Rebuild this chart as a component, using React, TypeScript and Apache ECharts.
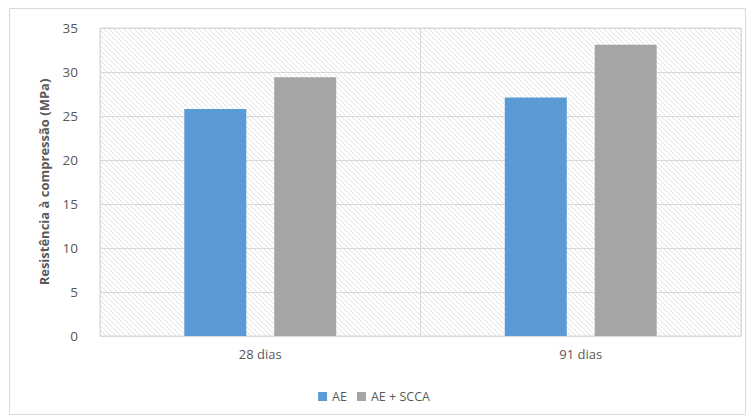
import React, { useEffect, useRef } from "react";
import * as echarts from "echarts";

const categories = ["28 dias", "91 dias"];
const seriesNames = ["AE", "AE + SCCA"];
const aeValues = [25.8, 27.1];
const aeSccaValues = [29.4, 33.1];
const yTicks = { min: 0, max: 35, interval: 5 };

const hatchSvg =
  "data:image/svg+xml;charset=utf-8," +
  encodeURIComponent(
    '<svg xmlns="http://www.w3.org/2000/svg" width="5" height="5">' +
      '<rect width="5" height="5" fill="#ffffff"/>' +
      '<path d="M-1,-1 L6,6 M-1,4 L1,6 M4,-1 L6,1" stroke="#dcdcdc" stroke-width="0.9"/>' +
      "</svg>"
  );

export default function App() {
  const ref = useRef<HTMLDivElement>(null);
  useEffect(() => {
    document.body.style.margin = "0";
    if (!ref.current) return;
    const chart = echarts.init(ref.current, null, { renderer: "svg" });
    const hatch: any = { image: hatchSvg, repeat: "repeat" };
    chart.setOption({
      animation: false,
      backgroundColor: "#ffffff",
      textStyle: { fontFamily: "Open Sans" },
      graphic: [
        {
          type: "rect",
          shape: { x: 9.5, y: 8.5, width: 736, height: 406 },
          style: { fill: "none", stroke: "#d9d9d9", lineWidth: 1 },
          silent: true,
          z: -1,
        },
      ],
      grid: {
        left: 100,
        top: 28,
        width: 641,
        height: 308,
        show: true,
        backgroundColor: hatch,
        borderColor: "#d9d9d9",
        borderWidth: 1,
      },
      legend: {
        bottom: 10,
        left: "center",
        itemWidth: 9,
        itemHeight: 9,
        itemGap: 10,
        icon: "rect",
        textStyle: { color: "#595959", fontSize: 12.5, fontFamily: "Open Sans" },
        data: seriesNames,
      },
      xAxis: {
        type: "category",
        data: categories,
        axisLine: { show: true, lineStyle: { color: "#d9d9d9" } },
        axisTick: { show: false },
        splitLine: { show: true, lineStyle: { color: "#d9d9d9" } },
        axisLabel: { color: "#595959", fontSize: 13, margin: 11 },
      },
      yAxis: {
        type: "value",
        min: yTicks.min,
        max: yTicks.max,
        interval: yTicks.interval,
        name: "Resistência à compressão (MPa)",
        nameLocation: "middle",
        nameGap: 50,
        nameTextStyle: { color: "#595959", fontSize: 13, fontWeight: "bold" },
        axisLine: { show: false },
        axisTick: { show: false },
        splitLine: { lineStyle: { color: "#d9d9d9" } },
        axisLabel: { color: "#595959", fontSize: 13.5, margin: 22 },
      },
      series: [
        {
          name: seriesNames[0],
          type: "bar",
          data: aeValues,
          barWidth: 62,
          barGap: "45%",
          itemStyle: { color: "#5b9bd5" },
        },
        {
          name: seriesNames[1],
          type: "bar",
          data: aeSccaValues,
          barWidth: 62,
          itemStyle: { color: "#a5a5a5" },
        },
      ],
    });
    return () => chart.dispose();
  }, []);
  return <div ref={ref} style={{ width: 748, height: 418 }} />;
}
